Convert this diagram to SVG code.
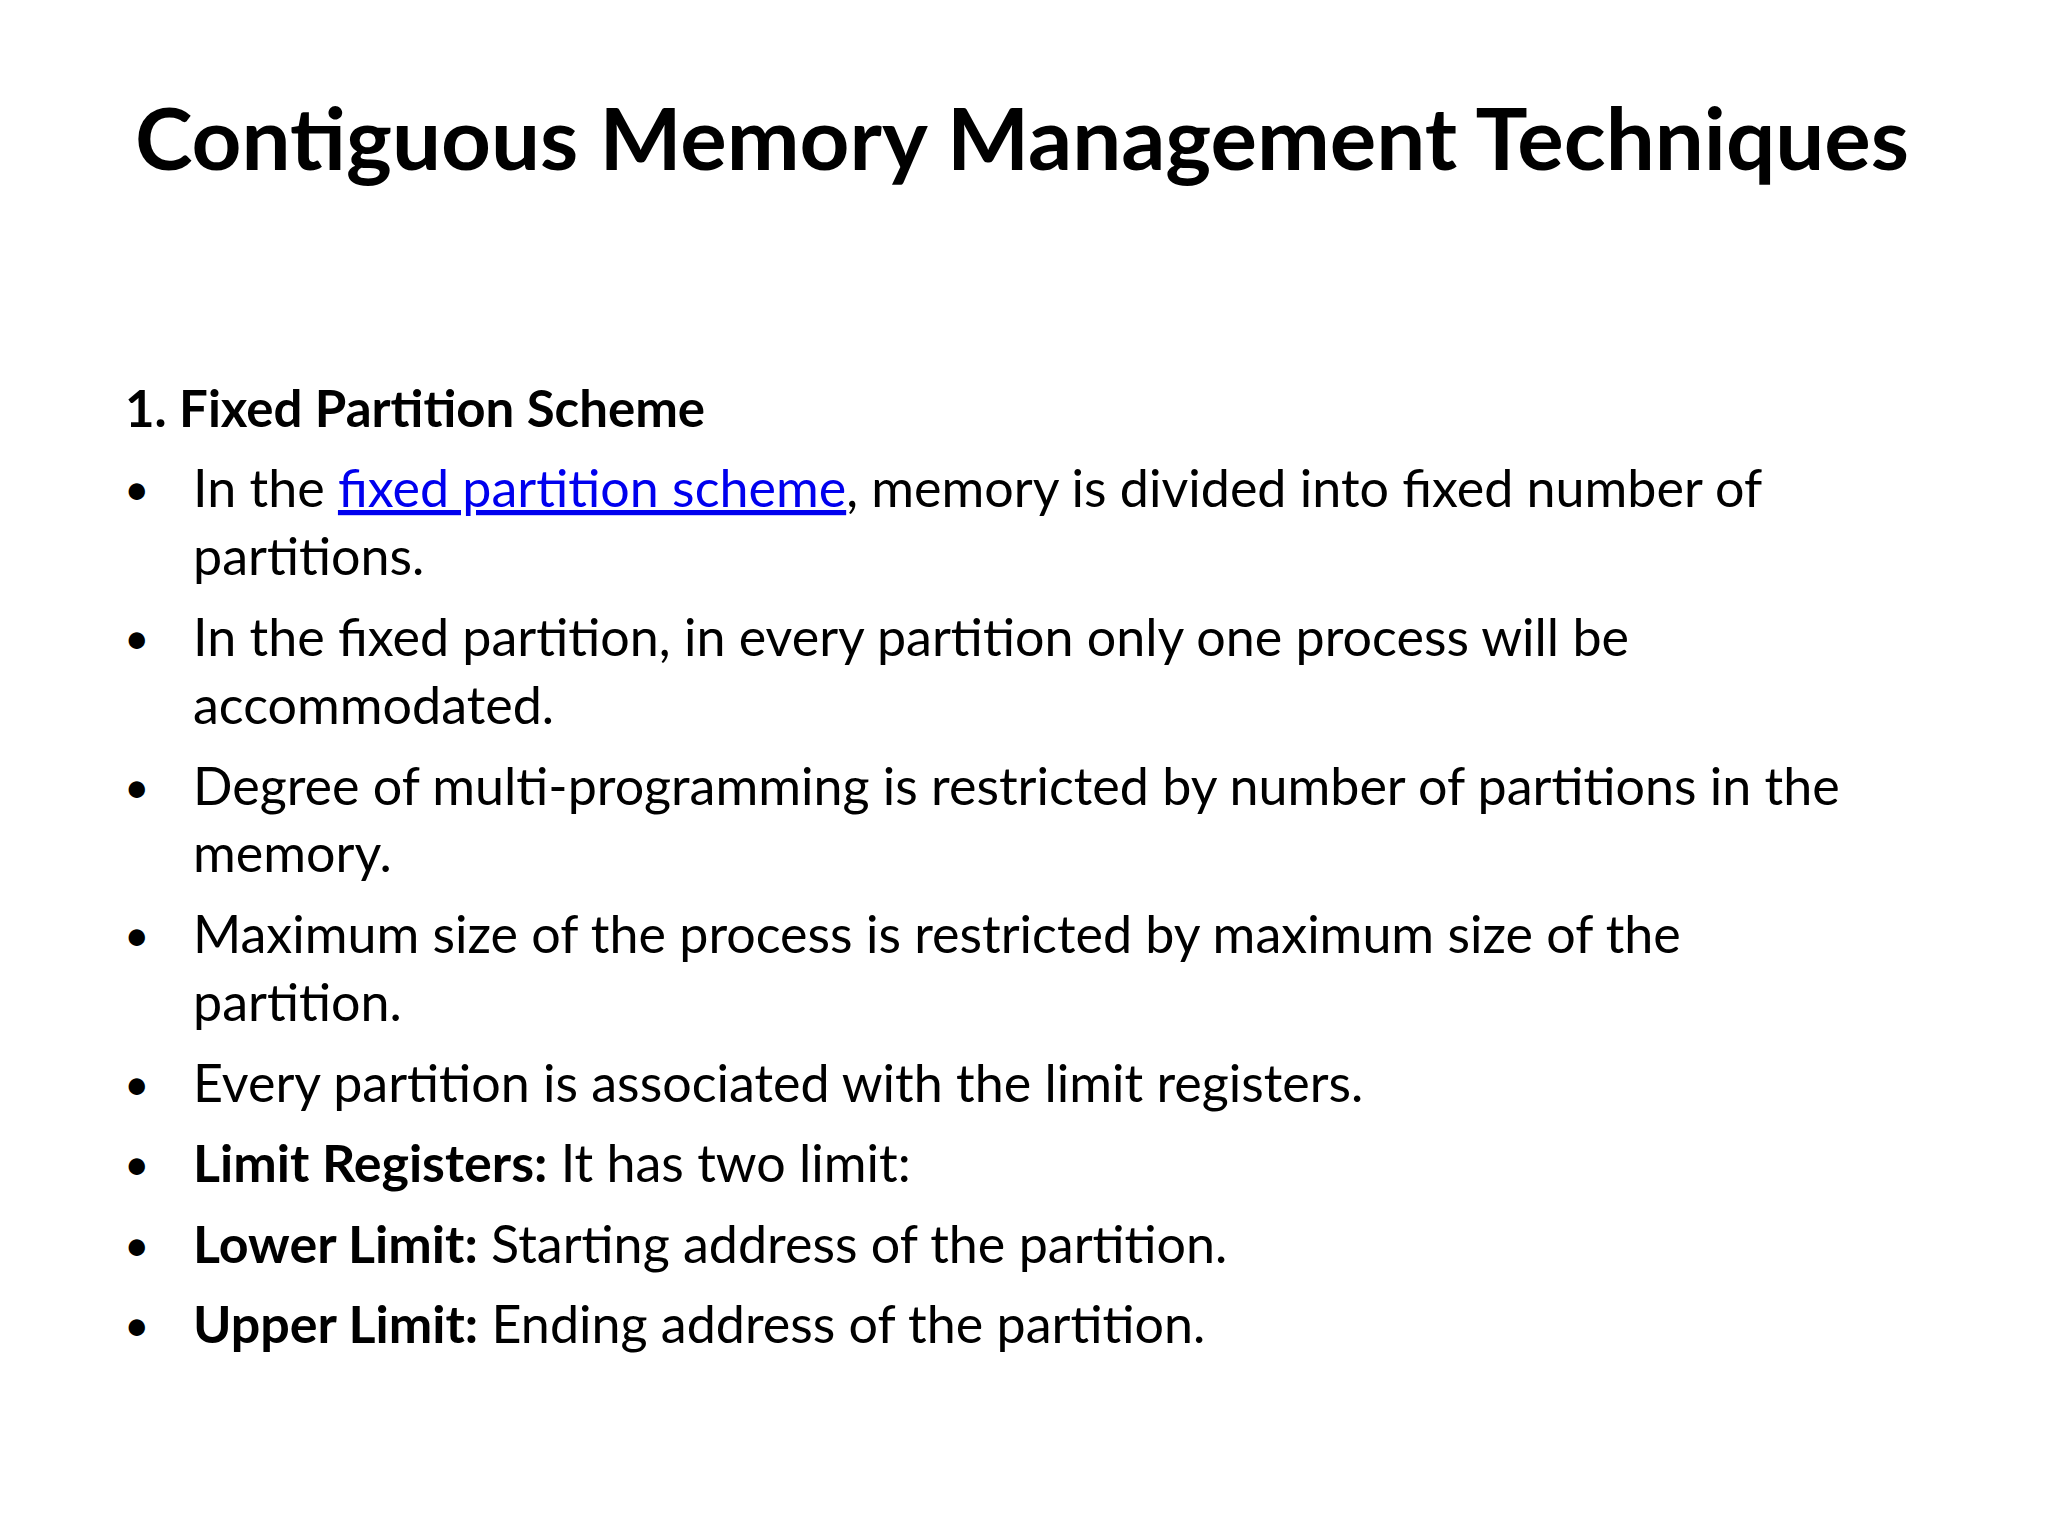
<svg xmlns="http://www.w3.org/2000/svg" width="2048" height="1536" viewBox="0 0 2048 1536">
<style>
text{font-family:Lato,"Noto Sans",sans-serif;fill:#000}
.t{font-size:87px;font-weight:bold}
.h{font-size:51px;font-weight:bold}
.b{font-size:52px}
.bu{font-size:44px}
.k{font-weight:bold}
.l{fill:#0000ee;text-decoration:underline}
</style>
<rect width="2048" height="1536" fill="#fff"/>
<g id="title"><text class="t" x="1022" y="170" text-anchor="middle">Contiguous Memory Management Techniques</text></g>
<g id="body">
<text class="h" x="125" y="427">1. Fixed Partition Scheme</text>
<text class="bu" x="124" y="505">•</text>
<text class="b" x="193" y="507">In the <tspan class="l">fixed partition scheme</tspan>, memory is divided into fixed number of</text>
<text class="b" x="193" y="575">partitions.</text>
<text class="bu" x="124" y="654">•</text>
<text class="b" x="193" y="656"> In the fixed partition, in every partition only one process will be</text>
<text class="b" x="193" y="724">accommodated.</text>
<text class="bu" x="124" y="803">•</text>
<text class="b" x="193" y="805">Degree of multi-programming is restricted by number of partitions in the</text>
<text class="b" x="193" y="872">memory.</text>
<text class="bu" x="124" y="951">•</text>
<text class="b" x="193" y="953"> Maximum size of the process is restricted by maximum size of the</text>
<text class="b" x="193" y="1021">partition.</text>
<text class="bu" x="124" y="1100">•</text>
<text class="b" x="193" y="1102">Every partition is associated with the limit registers.</text>
<text class="bu" x="124" y="1180">•</text>
<text class="b" x="193" y="1182"><tspan class="k">Limit Registers:</tspan> It has two limit:</text>
<text class="bu" x="124" y="1261">•</text>
<text class="b" x="193" y="1263"><tspan class="k">Lower Limit:</tspan> Starting address of the partition.</text>
<text class="bu" x="124" y="1341">•</text>
<text class="b" x="193" y="1343"><tspan class="k">Upper Limit:</tspan> Ending address of the partition.</text>
</g>
</svg>
